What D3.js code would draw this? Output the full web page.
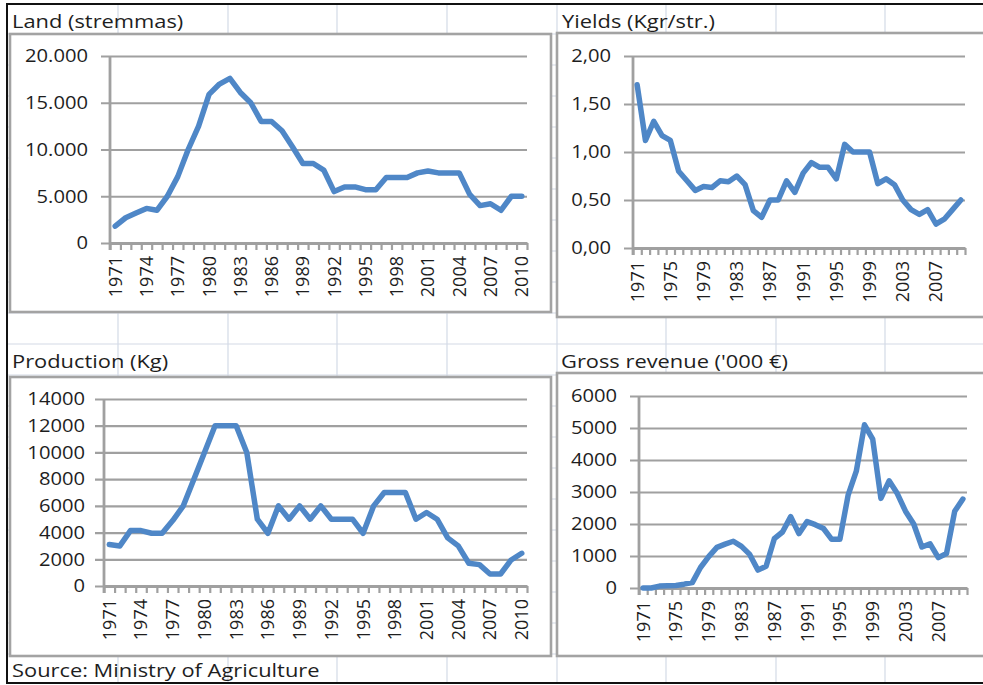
<!DOCTYPE html>
<html>
<head>
<meta charset="utf-8">
<script src="https://cdn.jsdelivr.net/npm/d3@7"></script>
<style>
  html, body { margin: 0; padding: 0; background: #fff; }
  svg { display: block; font-family: "Open Sans", sans-serif; }
</style>
</head>
<body>
<svg id="chart" width="983" height="685"></svg>
<script>
// categories
const years = ['1971','1972','1973','1974','1975','1976','1977','1978','1979','1980',
  '1981','1982','1983','1984','1985','1986','1987','1988','1989','1990',
  '1991','1992','1993','1994','1995','1996','1997','1998','1999','2000',
  '2001','2002','2003','2004','2005','2006','2007','2008','2009','2010'];

// series values
const landValues = [1800, 2700, 3200, 3700, 3500, 5000, 7100, 10000, 12500, 15900,
  17000, 17600, 16100, 15000, 13000, 13000, 12000, 10300, 8500, 8500,
  7800, 5500, 6000, 6000, 5700, 5700, 7000, 7000, 7000, 7500,
  7700, 7500, 7500, 7500, 5200, 4000, 4200, 3500, 5000, 5000];

const yieldValues = [1.70, 1.12, 1.32, 1.17, 1.12, 0.80, 0.70, 0.60, 0.64, 0.63,
  0.70, 0.69, 0.75, 0.66, 0.39, 0.32, 0.50, 0.50, 0.70, 0.58,
  0.78, 0.89, 0.84, 0.84, 0.72, 1.08, 1.00, 1.00, 1.00, 0.67,
  0.72, 0.66, 0.50, 0.40, 0.35, 0.40, 0.25, 0.30, 0.40, 0.50];

const productionValues = [3100, 3000, 4150, 4150, 3950, 3950, 4900, 6000, 8000, 10000,
  12000, 12000, 12000, 10000, 5000, 3950, 6000, 5000, 6000, 5000,
  6000, 5000, 5000, 5000, 3950, 6000, 7000, 7000, 7000, 5000,
  5500, 5000, 3600, 3000, 1700, 1600, 900, 900, 1950, 2450];

const revenueValues = [0, 0, 60, 70, 80, 120, 170, 640, 980, 1270,
  1370, 1460, 1300, 1050, 560, 680, 1540, 1750, 2230, 1700,
  2080, 1980, 1860, 1520, 1520, 2900, 3650, 5100, 4650, 2800,
  3350, 2950, 2400, 2000, 1280, 1380, 950, 1080, 2400, 2780];

// tick labels
const landTicks = [0, 5000, 10000, 15000, 20000];
const yieldTicks = [0, 0.5, 1, 1.5, 2];
const productionTicks = [0, 2000, 4000, 6000, 8000, 10000, 12000, 14000];
const revenueTicks = [0, 1000, 2000, 3000, 4000, 5000, 6000];
const yearLabels3 = ['1971','1974','1977','1980','1983','1986','1989','1992','1995','1998','2001','2004','2007','2010'];
const yearLabels4 = ['1971','1975','1979','1983','1987','1991','1995','1999','2003','2007'];

const titles = ['Land (stremmas)', 'Yields (Kgr/str.)', 'Production (Kg)', "Gross revenue ('000 €)"];
const sourceText = 'Source: Ministry of Agriculture';

const gr = d3.formatLocale({ decimal: ',', thousands: '.', grouping: [3], currency: ['', '€'] });

const svg = d3.select('#chart');
const lineColor = '#4f87c7';
const gridColor = '#a0a0a0';
const textColor = '#1e1e1e';

// stretch text horizontally (the original is a widened screenshot)
let stretch = (sel, k) => {
  sel.each(function () {
    const w = this.getComputedTextLength();
    d3.select(this).attr('textLength', w * k).attr('lengthAdjust', 'spacingAndGlyphs');
  });
};

// spreadsheet background
let drawSheet = () => {
  const colX = [118, 228, 337, 447, 557, 666, 776, 885];
  const rowY = d3.range(34, 685, 31);
  svg.append('g').selectAll('line').data(colX).enter().append('line')
    .attr('x1', d => d).attr('x2', d => d).attr('y1', 4).attr('y2', 683)
    .attr('stroke', '#d3dae6').attr('stroke-width', 1.2);
  svg.append('g').selectAll('line').data(rowY).enter().append('line')
    .attr('x1', 7).attr('x2', 983).attr('y1', d => d).attr('y2', d => d)
    .attr('stroke', '#d3dae6').attr('stroke-width', 1.2);
  // dark outer border
  svg.append('path')
    .attr('d', 'M983,4 H7 V683 H983')
    .attr('fill', 'none').attr('stroke', '#111').attr('stroke-width', 2);
};

let drawPanel = (p) => {
  const g = svg.append('g');

  g.append('rect')
    .attr('x', p.box[0]).attr('y', p.box[1])
    .attr('width', p.box[2]).attr('height', p.box[3])
    .attr('fill', '#fff').attr('stroke', '#a3a3a3').attr('stroke-width', 2.6);

  const title = svg.append('text')
    .attr('x', p.title[0]).attr('y', p.title[1])
    .attr('fill', textColor).style('font-size', '19px')
    .text(p.name);
  stretch(title, 1.15);

  const x = d3.scaleBand().domain(years).range([p.x0, p.x1]);
  const xEdge = d3.scaleLinear().domain([0, years.length]).range([p.x0, p.x1]);
  const y = d3.scaleLinear().domain([0, p.yMax]).range([p.yBottom, p.yTop]);

  // gridlines + value labels
  const yAxis = d3.axisLeft(y)
    .tickValues(p.ticks)
    .tickFormat(p.format)
    .tickSize(-(p.x1 - p.x0))
    .tickPadding(p.labelPad);
  const ya = g.append('g').attr('transform', `translate(${p.x0},0)`).call(yAxis);
  ya.select('.domain').remove();
  ya.selectAll('line').attr('x1', -9).attr('stroke', gridColor).attr('stroke-width', 2.2);
  const yLabels = ya.selectAll('text')
    .attr('fill', textColor).style('font-size', '18px').style('font-family', '"Open Sans", sans-serif');
  stretch(yLabels, 1.12);

  // vertical axis line
  g.append('line')
    .attr('x1', p.x0).attr('x2', p.x0)
    .attr('y1', p.yTop).attr('y2', p.yBottom + 7)
    .attr('stroke', gridColor).attr('stroke-width', 2.8);

  // category tick marks between categories
  const tickAxis = d3.axisBottom(xEdge)
    .tickValues(d3.range(years.length + 1))
    .tickFormat('')
    .tickSizeInner(7).tickSizeOuter(0);
  const ta = g.append('g').attr('transform', `translate(0,${p.yBottom})`).call(tickAxis);
  ta.select('.domain').attr('stroke', gridColor).attr('stroke-width', 2.8);
  ta.selectAll('line').attr('stroke', gridColor).attr('stroke-width', 2.2);

  // year labels
  const xAxis = d3.axisBottom(x).tickValues(p.yearLabels).tickSize(0);
  const xa = g.append('g').attr('transform', `translate(0,${p.yBottom})`).call(xAxis);
  xa.select('.domain').remove();
  xa.selectAll('text')
    .attr('transform', 'rotate(-90)')
    .attr('x', -13).attr('y', 0).attr('dy', '0.36em')
    .style('text-anchor', 'end')
    .style('font-size', '18px')
    .style('font-family', '"Open Sans", sans-serif')
    .attr('fill', textColor);

  // series line
  const line = d3.line()
    .x((d, i) => x(years[i]) + x.bandwidth() / 2)
    .y((d) => y(d));
  g.append('path')
    .datum(p.values)
    .attr('d', line)
    .attr('fill', 'none')
    .attr('stroke', lineColor)
    .attr('stroke-width', 5.5)
    .attr('stroke-linejoin', 'round')
    .attr('stroke-linecap', 'round');
};

drawSheet();

const panels = [
  { name: titles[0], values: landValues, ticks: landTicks, yMax: 20000, format: gr.format(',.0f'),
    yearLabels: yearLabels3, box: [10, 34, 541, 278], title: [12, 28],
    x0: 110, x1: 527, yTop: 56, yBottom: 243, labelPad: 22 },
  { name: titles[1], values: yieldValues, ticks: yieldTicks, yMax: 2, format: gr.format('.2f'),
    yearLabels: yearLabels4, box: [557, 33, 440, 284], title: [562, 28],
    x0: 633, x1: 965, yTop: 56, yBottom: 248, labelPad: 22 },
  { name: titles[2], values: productionValues, ticks: productionTicks, yMax: 14000, format: d3.format('d'),
    yearLabels: yearLabels3, box: [10, 377, 541, 279], title: [12, 368],
    x0: 104, x1: 527, yTop: 399, yBottom: 586, labelPad: 19 },
  { name: titles[3], values: revenueValues, ticks: revenueTicks, yMax: 6000, format: d3.format('d'),
    yearLabels: yearLabels4, box: [557, 373, 440, 283], title: [561, 368],
    x0: 639, x1: 967, yTop: 396, yBottom: 588, labelPad: 22 }
];

panels.forEach(drawPanel);

const src = svg.append('text')
  .attr('x', 12).attr('y', 677)
  .attr('fill', textColor).style('font-size', '19px')
  .text(sourceText);
stretch(src, 1.15);
</script>
</body>
</html>
